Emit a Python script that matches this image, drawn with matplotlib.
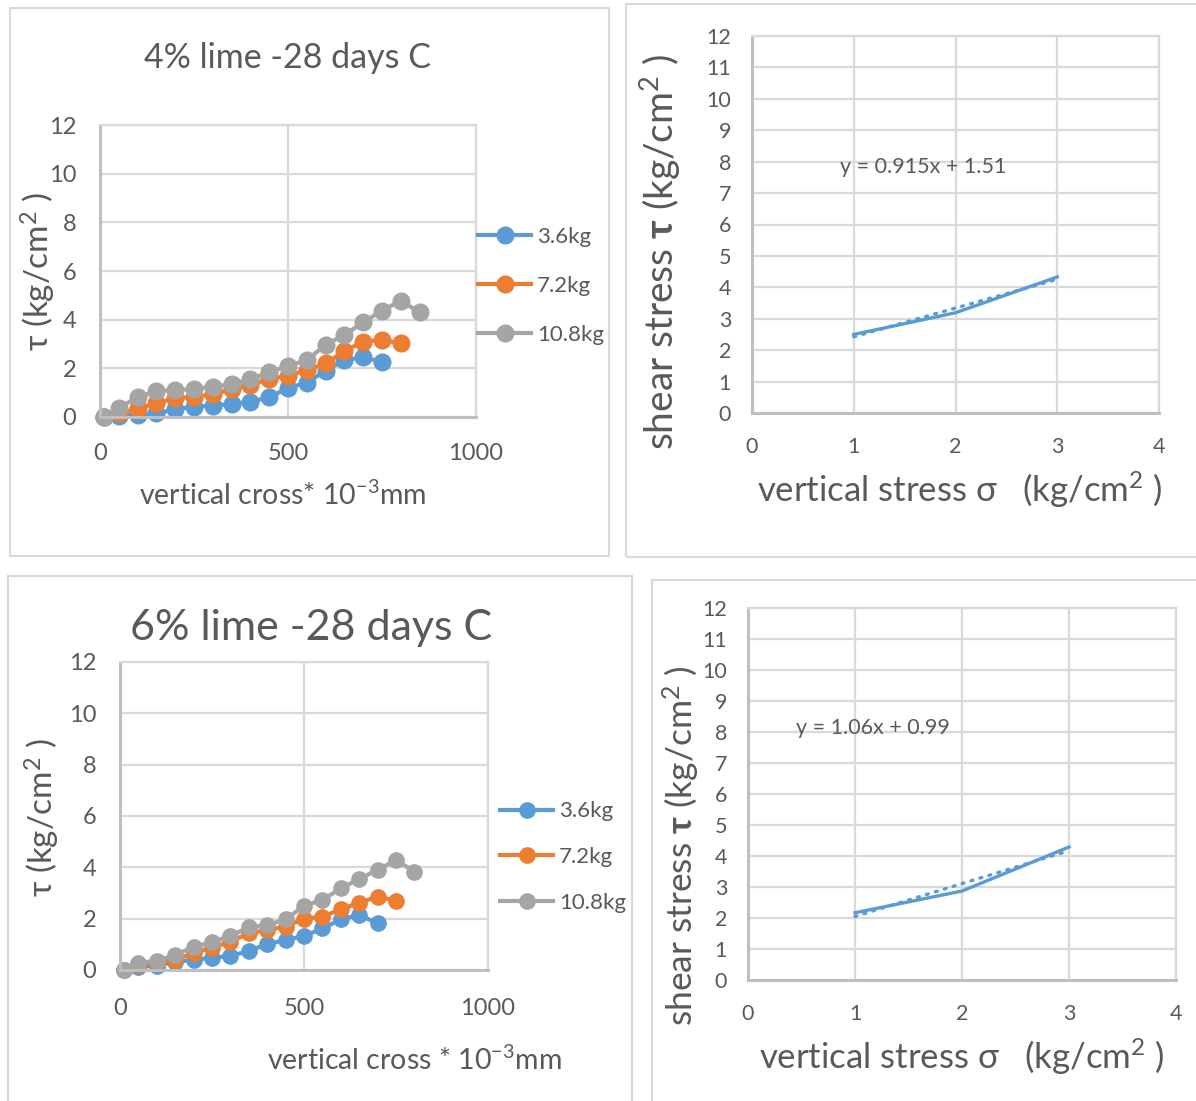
import matplotlib
matplotlib.use('Agg')
import matplotlib.pyplot as plt
from matplotlib.patches import Rectangle
import numpy as np

# ---------- fonts / style ----------
plt.rcParams['font.family'] = ['Lato', 'DejaVu Sans']
plt.rcParams['mathtext.fontset'] = 'custom'
plt.rcParams['mathtext.rm'] = 'Lato'
plt.rcParams['mathtext.it'] = 'Lato:italic'
plt.rcParams['mathtext.bf'] = 'Lato:bold'
plt.rcParams['text.color'] = '#595959'

W, H = 1196, 1101
BLUE, ORANGE, GRAY = '#5B9BD5', '#ED7D31', '#A5A5A5'
TXT = '#595959'
GRID = '#d9d9d9'

# ---------- data: horizontal displacement tests ----------
x_36_4 = [10] + list(range(50, 751, 50))
y_36_4 = [0, 0.05, 0.1, 0.15, 0.32, 0.42, 0.47, 0.53, 0.63, 0.81, 1.2, 1.41, 1.9, 2.34, 2.45, 2.27]
x_72_4 = [10] + list(range(50, 801, 50))
y_72_4 = [0, 0.15, 0.35, 0.56, 0.77, 0.83, 0.93, 1.14, 1.32, 1.56, 1.70, 1.93, 2.2, 2.71, 3.1, 3.16, 3.03]
x_108_4 = [10] + list(range(50, 851, 50))
y_108_4 = [0, 0.38, 0.81, 1.07, 1.1, 1.15, 1.25, 1.34, 1.56, 1.84, 2.1, 2.34, 2.96, 3.37, 3.89, 4.37, 4.78, 4.30]

x_36_6 = [10] + list(range(50, 701, 50))
y_36_6 = [0, 0.13, 0.17, 0.32, 0.39, 0.48, 0.55, 0.74, 1.01, 1.17, 1.32, 1.62, 1.97, 2.14, 1.82]
x_72_6 = [10] + list(range(50, 751, 50))
y_72_6 = [0, 0.2, 0.28, 0.39, 0.67, 0.87, 1.1, 1.43, 1.56, 1.69, 2.0, 2.08, 2.36, 2.62, 2.86, 2.7]
x_108_6 = [10] + list(range(50, 801, 50))
y_108_6 = [0, 0.28, 0.36, 0.58, 0.91, 1.08, 1.34, 1.66, 1.75, 1.97, 2.5, 2.73, 3.18, 3.55, 3.9, 4.29, 3.83]

series_labels = ['3.6kg', '7.2kg', '10.8kg']

# ---------- data: failure envelopes ----------
sigma = [1, 2, 3]
tau_4 = [2.5, 3.19, 4.33]
tau_6 = [2.17, 2.87, 4.29]
fit_4 = (0.915, 1.51)
fit_6 = (1.06, 0.99)


def px_axes(l, t, r, b):
    return fig.add_axes([l / W, 1 - b / H, (r - l) / W, (b - t) / H])


def style_axes(ax, xlim, ylim, xticks, yticks, fs, xpad, ypad):
    ax.set_xlim(*xlim)
    ax.set_ylim(*ylim)
    ax.set_xticks(xticks)
    ax.set_yticks(yticks)
    ax.grid(True, color=GRID, lw=1.6)
    ax.set_axisbelow(True)
    for s in ['top', 'right']:
        ax.spines[s].set_color(GRID)
        ax.spines[s].set_linewidth(1.6)
    for s in ['left', 'bottom']:
        ax.spines[s].set_color('#bfbfbf')
        ax.spines[s].set_linewidth(2.2)
    ax.tick_params(length=0, labelsize=fs, labelcolor=TXT)
    ax.tick_params(axis='x', pad=xpad)
    ax.tick_params(axis='y', pad=ypad)


def panel(l, t, r, b):
    fig.patches.append(Rectangle((l / W, 1 - b / H), (r - l) / W, (b - t) / H,
                                 transform=fig.transFigure, fill=False,
                                 edgecolor=GRID, lw=1.5))


def ftext(x, y, s, **kw):
    fig.text(x / W, 1 - y / H, s, ha='center', va='center', color=TXT, **kw)


fig = plt.figure(figsize=(W / 100, H / 100), dpi=100)
fig.patch.set_facecolor('white')

panel(10, 8, 609, 556)
panel(626, 4, 1199, 557)
panel(8, 576, 632, 1104)
panel(652, 580, 1199, 1104)

# ---------- top left: 4% lime ----------
ax1 = px_axes(100, 125, 476, 417)
style_axes(ax1, (0, 1000), (0, 12), [0, 500, 1000], range(0, 13, 2), 17, 19, 17)
h = []
for xs, ys, c, lab in [(x_36_4, y_36_4, BLUE, series_labels[0]),
                       (x_72_4, y_72_4, ORANGE, series_labels[1]),
                       (x_108_4, y_108_4, GRAY, series_labels[2])]:
    ln, = ax1.plot(xs, ys, color=c, lw=3, marker='o', ms=12, label=lab, clip_on=False)
    h.append(ln)
fig.legend(handles=h, loc='center left', bbox_to_anchor=(478 / W, 1 - 286 / H),
           frameon=False, fontsize=16, handlelength=2.4, handletextpad=0.25,
           labelspacing=1.3, labelcolor=TXT, borderaxespad=0, borderpad=0)
ftext(288, 58, '4% lime -28 days C', fontsize=24.5)
ftext(283, 495, 'vertical cross* 10$^{-3}$mm', fontsize=20.5)
ftext(38, 272, 'τ (kg/cm$^2$ )', fontsize=24, rotation=90)

# ---------- bottom left: 6% lime ----------
ax2 = px_axes(120, 662, 488, 970)
style_axes(ax2, (0, 1000), (0, 12), [0, 500, 1000], range(0, 13, 2), 17, 20, 17)
h = []
for xs, ys, c, lab in [(x_36_6, y_36_6, BLUE, series_labels[0]),
                       (x_72_6, y_72_6, ORANGE, series_labels[1]),
                       (x_108_6, y_108_6, GRAY, series_labels[2])]:
    ln, = ax2.plot(xs, ys, color=c, lw=3, marker='o', ms=11, label=lab, clip_on=False)
    h.append(ln)
fig.legend(handles=h, loc='center left', bbox_to_anchor=(500 / W, 1 - 857 / H),
           frameon=False, fontsize=16, handlelength=2.4, handletextpad=0.25,
           labelspacing=1.15, labelcolor=TXT, borderaxespad=0, borderpad=0)
ftext(311, 628, '6% lime -28 days C', fontsize=31)
ftext(414, 1060, 'vertical cross * 10$^{-3}$mm', fontsize=20.5)
ftext(42, 818, 'τ (kg/cm$^2$ )', fontsize=24, rotation=90)

# ---------- right: shear stress vs vertical stress ----------
for (l, t, r, b), tau, (m, c0), eq_xy, yl_xy, yl_fs, xl_xy in [
        ((752, 36, 1159, 413), tau_4, fit_4, (0.86, 7.83), (660, 252), 28, (960, 490)),
        ((748, 608, 1176, 980), tau_6, fit_6, (0.45, 8.13), (681, 846), 25.5, (962, 1057))]:
    ax = px_axes(l, t, r, b)
    style_axes(ax, (0, 4), (0, 12), range(0, 5), range(0, 13), 15.5, 17, 15)
    ax.plot(sigma, tau, color=BLUE, lw=2.4)
    xf = np.array([sigma[0], sigma[-1]])
    ax.plot(xf, m * xf + c0, color=BLUE, lw=2.4, ls=(0, (0.6, 2.2)),
            dash_capstyle='round')
    ax.text(eq_xy[0], eq_xy[1], f'y = {m:g}x + {c0:g}', fontsize=15.5,
            color=TXT, ha='left', va='center')
    ftext(*yl_xy, r'shear stress $\mathbf{τ}$ (kg/cm$^2$ )', fontsize=yl_fs, rotation=90)
    ftext(*xl_xy, 'vertical stress σ   (kg/cm$^2$ )', fontsize=25)

fig.savefig('out.png', dpi=100, facecolor='white')
